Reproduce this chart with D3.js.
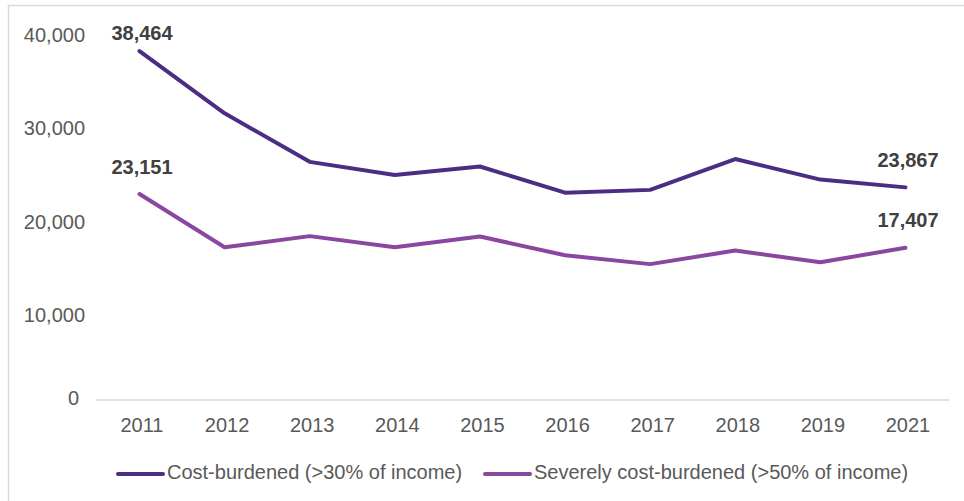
<!DOCTYPE html>
<html>
<head>
<meta charset="utf-8">
<script src="https://cdn.jsdelivr.net/npm/d3@7"></script>
<style>
  html, body { margin: 0; padding: 0; background: #fff; }
  svg { display: block; font-family: "Liberation Sans", Arial, sans-serif; }
</style>
</head>
<body>
<svg id="chart" width="964" height="501"></svg>
<script>
// ---- data ----
const years = ["2011", "2012", "2013", "2014", "2015", "2016", "2017", "2018", "2019", "2021"];
const costBurdened = [38464, 31800, 26600, 25200, 26100, 23300, 23600, 26900, 24700, 23867];
const severelyBurdened = [23151, 17450, 18650, 17450, 18600, 16600, 15650, 17100, 15850, 17407];
const seriesNames = ["Cost-burdened (>30% of income)", "Severely cost-burdened (>50% of income)"];
const yTicks = [0, 10000, 20000, 30000, 40000];
const labelFmt = d3.format(",");

// ---- layout ----
const colors = ["#4b2e83", "#8a479f"];
const svg = d3.select("#chart");

const x = d3.scalePoint().domain(years).range([139.5, 905.5]);
const y = d3.scaleLinear().domain([0, 40000]).range([410.3, 36.7]);

// frame
svg.append("path")
  .attr("d", "M8.5,501 V5.5 H964")
  .attr("fill", "none").attr("stroke", "#d9d9d9").attr("stroke-width", 1.5);

// x axis baseline
svg.append("line")
  .attr("x1", 96).attr("x2", 949).attr("y1", 400).attr("y2", 400)
  .attr("stroke", "#d9d9d9").attr("stroke-width", 1.5);

// y tick labels
svg.append("g").selectAll("text").data(yTicks).join("text")
  .attr("x", d => d === 0 ? 79 : 85)
  .attr("y", d => d === 0 ? 405 : y(d) + 5)
  .attr("text-anchor", "end")
  .attr("font-size", 20)
  .attr("fill", "#595959")
  .text(d => labelFmt(d));

// x tick labels
svg.append("g").selectAll("text").data(years).join("text")
  .attr("x", d => x(d) + 2.5)
  .attr("y", 432)
  .attr("text-anchor", "middle")
  .attr("font-size", 20)
  .attr("fill", "#595959")
  .text(d => d);

// lines
const series = [costBurdened, severelyBurdened];
const line = d3.line().x((d, i) => x(years[i])).y(d => y(d));
svg.append("g").selectAll("path").data(series).join("path")
  .attr("d", d => line(d))
  .attr("fill", "none")
  .attr("stroke", (d, i) => colors[i])
  .attr("stroke-width", 4)
  .attr("stroke-linejoin", "round")
  .attr("stroke-linecap", "round");

// data labels at first and last points
const labels = [];
series.forEach(s => {
  labels.push({ year: years[0], v: s[0] });
  labels.push({ year: years[years.length - 1], v: s[s.length - 1] });
});
svg.append("g").selectAll("text").data(labels).join("text")
  .attr("x", d => x(d.year) + 2.5)
  .attr("y", d => Math.max(y(d.v) - 20.5, 40))
  .attr("text-anchor", "middle")
  .attr("font-size", 20)
  .attr("font-weight", "bold")
  .attr("fill", "#404040")
  .text(d => labelFmt(d.v));

// legend
const legendItems = [
  { name: seriesNames[0], color: colors[0], x0: 118 },
  { name: seriesNames[1], color: colors[1], x0: 485 }
];
const lg = svg.append("g").selectAll("g").data(legendItems).join("g")
  .attr("transform", d => `translate(${d.x0},474)`);
lg.append("line")
  .attr("x1", 0).attr("x2", 45).attr("y1", 0).attr("y2", 0)
  .attr("stroke", d => d.color).attr("stroke-width", 4).attr("stroke-linecap", "round");
lg.append("text")
  .attr("x", 49).attr("y", 5)
  .attr("font-size", 20)
  .attr("fill", "#595959")
  .text(d => d.name);
</script>
</body>
</html>
